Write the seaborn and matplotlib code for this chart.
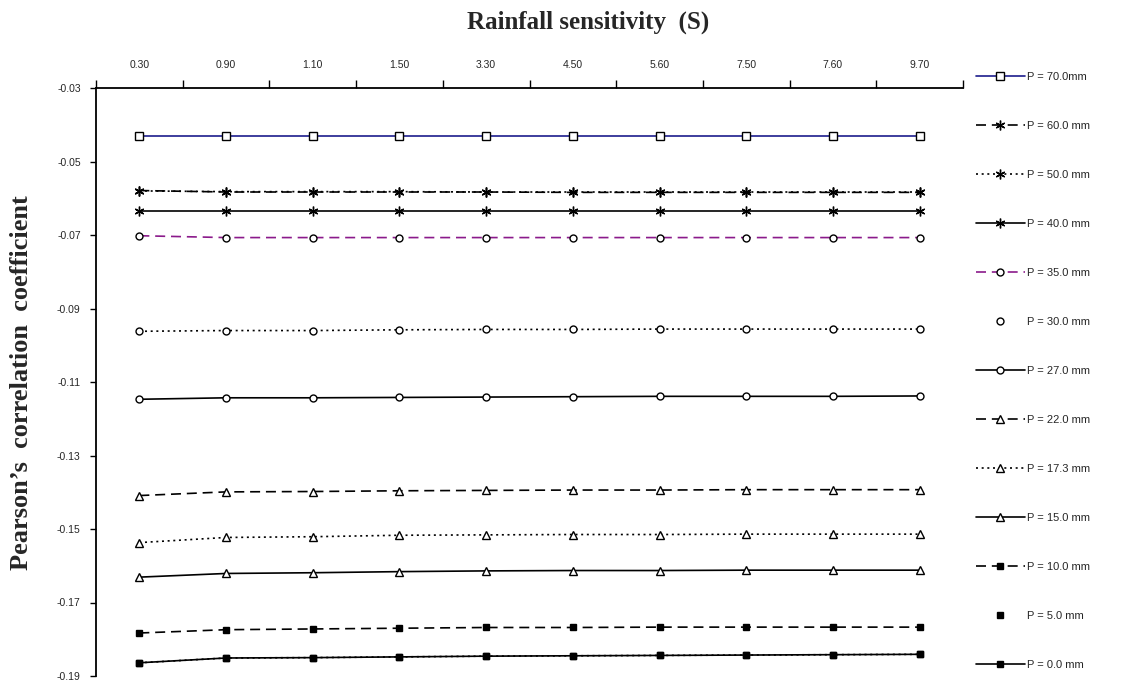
import numpy as np
import pandas as pd
import seaborn as sns
import matplotlib.pyplot as plt
from matplotlib.lines import Line2D
from matplotlib.ticker import FixedLocator, FormatStrFormatter

# ---------------- data ----------------
s_labels = ["0.30", "0.90", "1.10", "1.50", "3.30", "4.50", "5.60", "7.50", "7.60", "9.70"]

p70 = [-0.0431, -0.0431, -0.0431, -0.0431, -0.0431, -0.0431, -0.0431, -0.0431, -0.0431, -0.0431]
p60 = [-0.0579, -0.0583, -0.0583, -0.0583, -0.0583, -0.0584, -0.0584, -0.0584, -0.0584, -0.0584]
p50 = [-0.0580, -0.0582, -0.0582, -0.0582, -0.0583, -0.0583, -0.0583, -0.0583, -0.0583, -0.0583]
p40 = [-0.0635, -0.0635, -0.0635, -0.0635, -0.0635, -0.0635, -0.0635, -0.0635, -0.0635, -0.0635]
p35 = [-0.0702, -0.0707, -0.0707, -0.0707, -0.0707, -0.0707, -0.0707, -0.0707, -0.0707, -0.0707]
p30 = [-0.0962, -0.0960, -0.0960, -0.0958, -0.0957, -0.0957, -0.0956, -0.0956, -0.0956, -0.0956]
p27 = [-0.1147, -0.1143, -0.1143, -0.1142, -0.1141, -0.1140, -0.1139, -0.1139, -0.1139, -0.1138]
p22 = [-0.1409, -0.1399, -0.1398, -0.1396, -0.1395, -0.1394, -0.1394, -0.1393, -0.1393, -0.1393]
p17 = [-0.1537, -0.1523, -0.1521, -0.1517, -0.1516, -0.1515, -0.1515, -0.1514, -0.1514, -0.1514]
p15 = [-0.1631, -0.1621, -0.1619, -0.1616, -0.1614, -0.1613, -0.1613, -0.1612, -0.1612, -0.1612]
p10 = [-0.1783, -0.1774, -0.1772, -0.1770, -0.1768, -0.1768, -0.1767, -0.1767, -0.1767, -0.1767]
p5 = [-0.1864, -0.1851, -0.1850, -0.1848, -0.1846, -0.1845, -0.1844, -0.1843, -0.1842, -0.1841]
p0 = [-0.1864, -0.1851, -0.1850, -0.1848, -0.1846, -0.1845, -0.1844, -0.1843, -0.1842, -0.1841]

legend_labels = ["P = 70.0mm", "P = 60.0 mm", "P = 50.0 mm", "P = 40.0 mm", "P = 35.0 mm",
                 "P = 30.0 mm", "P = 27.0 mm", "P = 22.0 mm", "P = 17.3 mm", "P = 15.0 mm",
                 "P = 10.0 mm", "P = 5.0 mm", "P = 0.0 mm"]

# ---------------- styles ----------------
asterisk = (6, 2, 0)
DASH = (0, (6, 3.5))
DOT = (0, (1.2, 2.2))
navy = "#1c1c8c"
purple = "#8b1a8b"

styles = [
    # color, linestyle, marker, msize, mface, legend_line
    (navy, "-", "s", 6.0, "white", True),
    ("black", DASH, asterisk, 7.0, "black", True),
    ("black", DOT, asterisk, 7.0, "black", True),
    ("black", "-", asterisk, 7.0, "black", True),
    (purple, DASH, "o", 5.0, "white", True),
    ("black", DOT, "o", 5.0, "white", False),
    ("black", "-", "o", 5.0, "white", True),
    ("black", DASH, "^", 6.0, "white", True),
    ("black", DOT, "^", 6.0, "white", True),
    ("black", "-", "^", 6.0, "white", True),
    ("black", DASH, "s", 5.0, "black", True),
    ("black", DOT, "s", 5.0, "black", False),
    ("black", "-", "s", 5.0, "black", True),
]
series = [p70, p60, p50, p40, p35, p30, p27, p22, p17, p15, p10, p5, p0]

# ---------------- figure ----------------
sns.set_theme(style="white")
plt.rcParams["font.family"] = ["Liberation Sans", "DejaVu Sans"]

fig = plt.figure(figsize=(11.22, 6.88), dpi=100)
ax = fig.add_axes([96 / 1122, 1 - 676 / 688, (963 - 96) / 1122, (676 - 88) / 688])

x = np.arange(len(s_labels))
handles = []
for vals, (col, ls, mk, ms, mf, legline), lab in zip(series, styles, legend_labels):
    df = pd.DataFrame({"S": x, "r": vals})
    sns.lineplot(data=df, x="S", y="r", ax=ax, color=col, linestyle=ls, linewidth=1.2,
                 marker=mk, markersize=ms, markerfacecolor=mf, markeredgecolor="black",
                 markeredgewidth=1.0, legend=False)
    handles.append(Line2D([], [], color=col, linestyle=ls if legline else "none",
                          linewidth=1.2, marker=mk, markersize=ms, markerfacecolor=mf,
                          markeredgecolor="black", markeredgewidth=1.0, label=lab))

ax.set_xlim(-0.5, len(s_labels) - 0.5)
ax.set_ylim(-0.19, -0.03)

# x axis on top, categorical
ax.xaxis.tick_top()
ax.xaxis.set_label_position("top")
ax.set_xticks(x)
ax.set_xticklabels(s_labels, fontsize=7.5)
ax.xaxis.set_minor_locator(FixedLocator(np.arange(-0.5, len(s_labels), 1.0)))
ax.tick_params(axis="x", which="major", length=0, pad=13, top=True, bottom=False)
ax.tick_params(axis="x", which="minor", length=6, width=1, direction="out",
               top=True, bottom=False, color="black")

ax.set_yticks(np.arange(-0.19, -0.029, 0.02))
ax.yaxis.set_major_formatter(FormatStrFormatter("%.2f"))
ax.tick_params(axis="y", which="major", length=4, width=1, direction="out", left=True,
               labelsize=7.5, pad=7, color="black")

for side in ["right", "bottom"]:
    ax.spines[side].set_visible(False)
for side in ["left", "top"]:
    ax.spines[side].set_visible(True)
    ax.spines[side].set_color("black")
    ax.spines[side].set_linewidth(1.3)

ax.set_xlabel("")
ax.set_ylabel("")
ax.grid(False)

fig.text(588 / 1122, 1 - 22 / 688, "Rainfall sensitivity  (S)", ha="center", va="center",
         fontsize=18, fontweight="bold", family="Liberation Serif")
fig.text(22 / 1122, 1 - 383 / 688, "Pearson\u2019s  correlation  coefficient", ha="center",
         va="center", rotation=90, fontsize=19, fontweight="bold", family="Liberation Serif")

fig.legend(handles=handles, loc="center left", bbox_to_anchor=(976 / 1122, 1 - 371 / 688),
           frameon=False, fontsize=8, handlelength=4.4, handletextpad=0.2,
           labelspacing=3.51, borderpad=0, borderaxespad=0)

fig.savefig("out.png", dpi=100)
